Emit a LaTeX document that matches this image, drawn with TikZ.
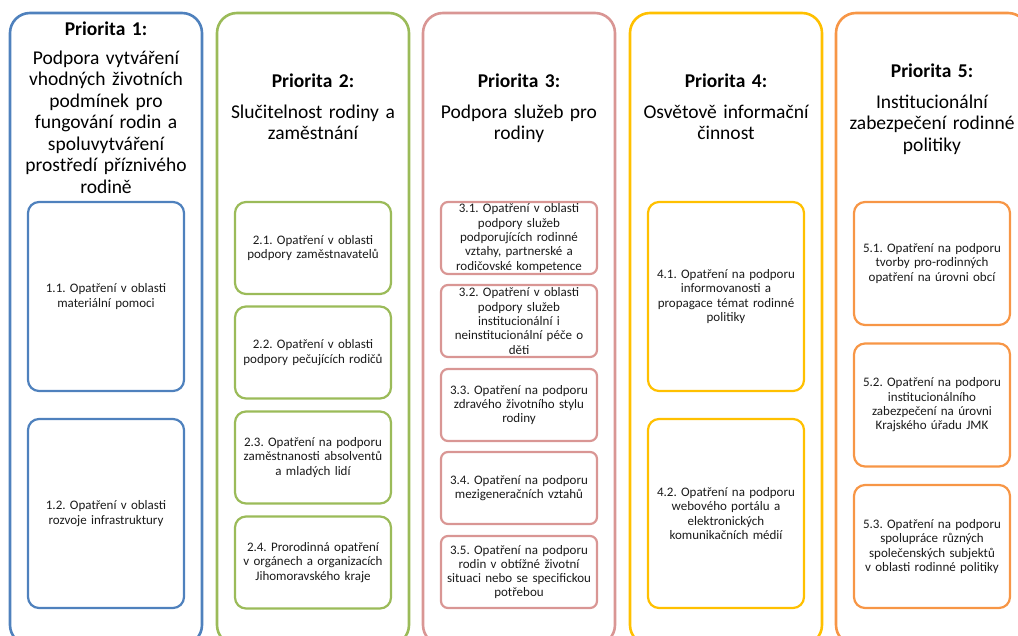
\documentclass[tikz,border=0pt]{standalone}
\usepackage{fontspec}
\setmainfont{Carlito}
\usetikzlibrary{positioning}
\definecolor{PrioBlue}{HTML}{4F81BD}
\definecolor{PrioGreen}{HTML}{9BBB59}
\definecolor{PrioRose}{HTML}{D99694}
\definecolor{PrioGold}{HTML}{FFC000}
\definecolor{PrioOrange}{HTML}{F79646}
\definecolor{InkGray}{HTML}{1A1A1A}
\frenchspacing
\tikzset{
  priobox/.style={draw=#1, line width=2.6pt, rounded corners=20pt,
                  minimum width=192pt, minimum height=632pt},
  priotitle/.style={anchor=north, align=center, inner sep=0pt, text width=190pt,
                    font=\fontsize{19.5}{21.5}\selectfont},
  measure/.style={draw=#1, line width=2.2pt, rounded corners=11pt, inner sep=0pt,
                  minimum width=156pt, text width=155pt, align=center,
                  text=InkGray, font=\fontsize{13}{14.3}\selectfont}
}

\begin{document}
\begin{tikzpicture}[x=1pt, y=-1pt]
\useasboundingbox (0,0) rectangle (1018,636);
\clip (0,0) rectangle (1018,636);

% outer priority columns
\node[priobox=PrioBlue]   (p1) at (106,329) {};
\node[priobox=PrioGreen]  (p2) at (313,329) {};
\node[priobox=PrioRose]   (p3) at (519,329) {};
\node[priobox=PrioGold]   (p4) at (726,329) {};
\node[priobox=PrioOrange] (p5) at (932,329) {};

% titles
\node[priotitle] (t1) at (106,22) {\textbf{Priorita 1:}\\[7pt]
    Podpora vytváření\\ vhodných životních\\ podmínek pro\\ fungování rodin a\\
    spoluvytváření\\ prostředí příznivého\\ rodině};
\node[priotitle] (t2) at (313,74) {\textbf{Priorita 2:}\\[9pt]
    Slučitelnost rodiny a\\ zaměstnání};
\node[priotitle] (t3) at (519,74) {\textbf{Priorita 3:}\\[9pt]
    Podpora služeb pro\\ rodiny};
\node[priotitle] (t4) at (726,74) {\textbf{Priorita 4:}\\[9pt]
    Osvětově informační\\ činnost};
\node[priotitle] (t5) at (932,64) {\textbf{Priorita 5:}\\[9pt]
    Institucionální\\ zabezpečení rodinné\\ politiky};

% priority 1
\node[measure=PrioBlue, minimum height=189pt] (m11) at (106,296.5)
    {1.1. Opatření v oblasti\\ materiální pomoci};
\node[measure=PrioBlue, minimum height=189pt] (m12) at (106,513.5)
    {1.2. Opatření v oblasti\\ rozvoje infrastruktury};

% priority 2
\node[measure=PrioGreen, minimum height=92pt] (m21) at (313,248)
    {2.1. Opatření v oblasti\\ podpory zaměstnavatelů};
\node[measure=PrioGreen, minimum height=92pt] (m22) at (313,352.5)
    {2.2. Opatření v oblasti\\ podpory pečujících rodičů};
\node[measure=PrioGreen, minimum height=92pt] (m23) at (313,457.5)
    {2.3. Opatření na podporu\\ zaměstnanosti absolventů\\ a mladých lidí};
\node[measure=PrioGreen, minimum height=92pt] (m24) at (313,562.5)
    {2.4. Prorodinná opatření\\ v orgánech a organizacích\\ Jihomoravského kraje};

% priority 3
\node[measure=PrioRose, rounded corners=7pt, minimum height=72pt] (m31) at (519,238)
    {3.1. Opatření v oblasti\\ podpory služeb\\ podporujících rodinné\\
     vztahy, partnerské a\\ rodičovské kompetence};
\node[measure=PrioRose, rounded corners=7pt, minimum height=72pt] (m32) at (519,321)
    {3.2. Opatření v oblasti\\ podpory služeb\\ institucionální i\\
     neinstitucionální péče o\\ děti};
\node[measure=PrioRose, rounded corners=7pt, minimum height=72pt] (m33) at (519,405)
    {3.3. Opatření na podporu\\ zdravého životního stylu\\ rodiny};
\node[measure=PrioRose, rounded corners=7pt, minimum height=72pt] (m34) at (519,488)
    {3.4. Opatření na podporu\\ mezigeneračních vztahů};
\node[measure=PrioRose, rounded corners=7pt, minimum height=72pt] (m35) at (519,572)
    {3.5. Opatření na podporu\\ rodin v obtížné životní\\ situaci nebo se specifickou\\ potřebou};

% priority 4
\node[measure=PrioGold, minimum height=189pt] (m41) at (726,296.5)
    {4.1. Opatření na podporu\\ informovanosti a\\ propagace témat rodinné\\ politiky};
\node[measure=PrioGold, minimum height=189pt] (m42) at (726,513.5)
    {4.2. Opatření na podporu\\ webového portálu a\\ elektronických\\ komunikačních médií};

% priority 5
\node[measure=PrioOrange, minimum height=123pt] (m51) at (932,263.5)
    {5.1. Opatření na podporu\\ tvorby pro-rodinných\\ opatření na úrovni obcí};
\node[measure=PrioOrange, minimum height=123pt] (m52) at (932,405)
    {5.2. Opatření na podporu\\ institucionálního\\ zabezpečení na úrovni\\ Krajského úřadu JMK};
\node[measure=PrioOrange, minimum height=123pt] (m53) at (932,546.5)
    {5.3. Opatření na podporu\\ spolupráce různých\\ společenských subjektů\\ v oblasti rodinné politiky};
\end{tikzpicture}
\end{document}
